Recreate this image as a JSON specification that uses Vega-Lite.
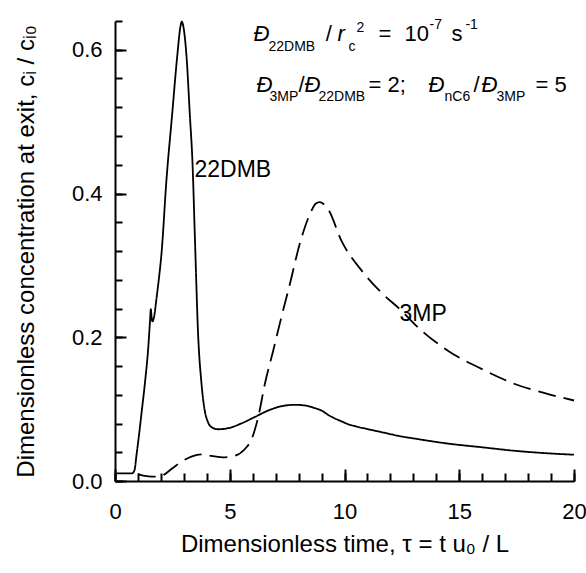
{
  "$schema": "https://vega.github.io/schema/vega-lite/v6.json",
  "width": 459,
  "height": 460,
  "autosize": {"type": "pad"},
  "padding": {"left": 14, "top": 17, "right": 0, "bottom": 0},
  "background": "white",
  "config": {
    "view": {"stroke": null},
    "font": "Liberation Sans",
    "axis": {"grid": false, "zindex": 1, "labelColor": "black", "titleColor": "black", "labelFont": "Liberation Sans", "titleFont": "Liberation Sans", "labelFontSize": 22, "titleFontSize": 24, "titleFontWeight": "normal", "domainColor": "#000000", "tickColor": "#000000", "domainWidth": 2, "tickWidth": 2}
  },
  "resolve": {"axis": {"x": "independent", "y": "independent"}},
  "datasets": {
    "curves": [
      {"series": "22DMB", "x": 0, "y": 0.0107},
      {"series": "22DMB", "x": 0.5, "y": 0.0107},
      {"series": "22DMB", "x": 0.75, "y": 0.0107},
      {"series": "22DMB", "x": 0.85, "y": 0.015},
      {"series": "22DMB", "x": 0.94, "y": 0.037},
      {"series": "22DMB", "x": 1.05, "y": 0.065},
      {"series": "22DMB", "x": 1.15, "y": 0.093},
      {"series": "22DMB", "x": 1.3, "y": 0.135},
      {"series": "22DMB", "x": 1.45, "y": 0.186},
      {"series": "22DMB", "x": 1.53, "y": 0.225},
      {"series": "22DMB", "x": 1.56, "y": 0.239},
      {"series": "22DMB", "x": 1.6, "y": 0.226},
      {"series": "22DMB", "x": 1.63, "y": 0.222},
      {"series": "22DMB", "x": 1.7, "y": 0.228},
      {"series": "22DMB", "x": 1.8, "y": 0.252},
      {"series": "22DMB", "x": 1.9, "y": 0.278},
      {"series": "22DMB", "x": 2.03, "y": 0.318},
      {"series": "22DMB", "x": 2.24, "y": 0.418},
      {"series": "22DMB", "x": 2.49, "y": 0.51},
      {"series": "22DMB", "x": 2.72, "y": 0.594},
      {"series": "22DMB", "x": 2.85, "y": 0.632},
      {"series": "22DMB", "x": 2.91, "y": 0.639},
      {"series": "22DMB", "x": 2.98, "y": 0.632},
      {"series": "22DMB", "x": 3.12, "y": 0.589},
      {"series": "22DMB", "x": 3.26, "y": 0.51},
      {"series": "22DMB", "x": 3.38, "y": 0.44},
      {"series": "22DMB", "x": 3.48, "y": 0.34},
      {"series": "22DMB", "x": 3.62, "y": 0.205},
      {"series": "22DMB", "x": 3.77, "y": 0.135},
      {"series": "22DMB", "x": 3.91, "y": 0.098},
      {"series": "22DMB", "x": 4.05, "y": 0.082},
      {"series": "22DMB", "x": 4.2, "y": 0.075},
      {"series": "22DMB", "x": 4.5, "y": 0.072},
      {"series": "22DMB", "x": 5.0, "y": 0.074},
      {"series": "22DMB", "x": 5.5, "y": 0.08},
      {"series": "22DMB", "x": 6.09, "y": 0.089},
      {"series": "22DMB", "x": 6.67, "y": 0.098},
      {"series": "22DMB", "x": 7.25, "y": 0.104},
      {"series": "22DMB", "x": 7.83, "y": 0.106},
      {"series": "22DMB", "x": 8.3, "y": 0.105},
      {"series": "22DMB", "x": 8.7, "y": 0.1015},
      {"series": "22DMB", "x": 9.0, "y": 0.098},
      {"series": "22DMB", "x": 9.29, "y": 0.092},
      {"series": "22DMB", "x": 9.58, "y": 0.087},
      {"series": "22DMB", "x": 9.87, "y": 0.083},
      {"series": "22DMB", "x": 10.16, "y": 0.079},
      {"series": "22DMB", "x": 10.5, "y": 0.076},
      {"series": "22DMB", "x": 11.03, "y": 0.072},
      {"series": "22DMB", "x": 11.61, "y": 0.068},
      {"series": "22DMB", "x": 12.48, "y": 0.062},
      {"series": "22DMB", "x": 13.06, "y": 0.059},
      {"series": "22DMB", "x": 14.52, "y": 0.052},
      {"series": "22DMB", "x": 15.97, "y": 0.047},
      {"series": "22DMB", "x": 17.42, "y": 0.042},
      {"series": "22DMB", "x": 18.87, "y": 0.0385},
      {"series": "22DMB", "x": 20, "y": 0.0366},
      {"series": "3MP", "x": 1.0, "y": 0.0097},
      {"series": "3MP", "x": 1.3, "y": 0.007},
      {"series": "3MP", "x": 1.6, "y": 0.006},
      {"series": "3MP", "x": 2.03, "y": 0.0074},
      {"series": "3MP", "x": 2.46, "y": 0.0167},
      {"series": "3MP", "x": 2.9, "y": 0.027},
      {"series": "3MP", "x": 3.33, "y": 0.034},
      {"series": "3MP", "x": 3.77, "y": 0.037},
      {"series": "3MP", "x": 4.2, "y": 0.035},
      {"series": "3MP", "x": 4.78, "y": 0.033},
      {"series": "3MP", "x": 5.22, "y": 0.035},
      {"series": "3MP", "x": 5.66, "y": 0.0445},
      {"series": "3MP", "x": 5.95, "y": 0.058},
      {"series": "3MP", "x": 6.24, "y": 0.089},
      {"series": "3MP", "x": 6.53, "y": 0.135},
      {"series": "3MP", "x": 6.89, "y": 0.181},
      {"series": "3MP", "x": 7.25, "y": 0.228},
      {"series": "3MP", "x": 7.62, "y": 0.274},
      {"series": "3MP", "x": 8.05, "y": 0.33},
      {"series": "3MP", "x": 8.56, "y": 0.376},
      {"series": "3MP", "x": 8.75, "y": 0.386},
      {"series": "3MP", "x": 8.92, "y": 0.388},
      {"series": "3MP", "x": 9.1, "y": 0.385},
      {"series": "3MP", "x": 9.29, "y": 0.378},
      {"series": "3MP", "x": 9.87, "y": 0.334},
      {"series": "3MP", "x": 10.74, "y": 0.293},
      {"series": "3MP", "x": 11.61, "y": 0.262},
      {"series": "3MP", "x": 12.48, "y": 0.237},
      {"series": "3MP", "x": 13.06, "y": 0.218},
      {"series": "3MP", "x": 14.52, "y": 0.181},
      {"series": "3MP", "x": 15.97, "y": 0.156},
      {"series": "3MP", "x": 17.42, "y": 0.135},
      {"series": "3MP", "x": 18.87, "y": 0.121},
      {"series": "3MP", "x": 20, "y": 0.112}
    ],
    "annItalic": [
      {"text": "Đ", "x": 6.035, "y": 0.6122},
      {"text": "r", "x": 9.695, "y": 0.6122},
      {"text": "Đ", "x": 6.166, "y": 0.5412},
      {"text": "Đ", "x": 8.257, "y": 0.5412},
      {"text": "Đ", "x": 13.66, "y": 0.5412},
      {"text": "Đ", "x": 15.969, "y": 0.5412}
    ],
    "annMain": [
      {"text": "/", "x": 9.18, "y": 0.6122},
      {"text": "=", "x": 11.481, "y": 0.6122},
      {"text": "10", "x": 12.614, "y": 0.6122},
      {"text": "s", "x": 14.662, "y": 0.6122},
      {"text": "/", "x": 7.996, "y": 0.5412},
      {"text": "= 2;", "x": 11.046, "y": 0.5412},
      {"text": "/", "x": 15.621, "y": 0.5412},
      {"text": "= 5", "x": 18.32, "y": 0.5412}
    ],
    "annSub": [
      {"text": "22DMB", "x": 6.689, "y": 0.5983},
      {"text": "c", "x": 10.174, "y": 0.5983},
      {"text": "3MP", "x": 6.732, "y": 0.5287},
      {"text": "22DMB", "x": 8.867, "y": 0.5287},
      {"text": "nC6", "x": 14.357, "y": 0.5287},
      {"text": "3MP", "x": 16.623, "y": 0.5287}
    ],
    "annSup": [
      {"text": "2", "x": 10.523, "y": 0.6247},
      {"text": "-7", "x": 13.704, "y": 0.6289},
      {"text": "-1", "x": 15.27, "y": 0.6289}
    ],
    "curveLabels": [
      {"text": "22DMB", "x": 3.464, "y": 0.423},
      {"text": "3MP", "x": 12.397, "y": 0.2226}
    ]
  },
  "layer": [
    {
      "data": {"name": "curves"},
      "mark": {"type": "line", "color": "black", "strokeWidth": 1.8, "interpolate": "monotone", "clip": false},
      "encoding": {
        "x": {
          "field": "x", "type": "quantitative",
          "scale": {"domain": [0, 20], "nice": false, "zero": false},
          "axis": {
            "orient": "bottom",
            "title": "Dimensionless time, τ = t u₀ / L",
            "values": [0, 5, 10, 15, 20],
            "domain": true,
            "ticks": true,
            "tickSize": -12,
            "labelPadding": 32,
            "titlePadding": 10,
            "labelFlush": false,
            "labelOverlap": false
          }
        },
        "y": {
          "field": "y", "type": "quantitative",
          "scale": {"domain": [0, 0.64], "nice": false, "zero": false},
          "axis": {
            "orient": "left",
            "title": "Dimensionless concentration at exit, cᵢ / cᵢ₀",
            "values": [0, 0.2, 0.4, 0.6],
            "format": ".1f",
            "domain": true,
            "ticks": true,
            "tickSize": -11,
            "labelPadding": 24,
            "titlePadding": 33,
            "labelFlush": false,
            "labelOverlap": false
          }
        },
        "detail": {"field": "series"},
        "strokeDash": {"field": "series", "type": "nominal", "scale": {"domain": ["22DMB", "3MP"], "range": [[1, 0], [18, 8]]}, "legend": null}
      }
    },
    {
      "data": {"name": "annItalic"},
      "mark": {"type": "text", "align": "left", "baseline": "alphabetic", "fontSize": 22, "fontStyle": "italic", "font": "Liberation Sans", "color": "black"},
      "encoding": {
        "x": {
          "field": "x", "type": "quantitative",
          "axis": {
            "orient": "bottom",
            "title": null,
            "values": [0,1,2,3,4,5,6,7,8,9,10,11,12,13,14,15,16,17,18,19,20],
            "labels": false,
            "domain": false,
            "ticks": true,
            "tickSize": -8
          }
        },
        "y": {
          "field": "y", "type": "quantitative",
          "axis": {
            "orient": "left",
            "title": null,
            "values": [0,0.04,0.08,0.12,0.16,0.2,0.24,0.28,0.32,0.36,0.4,0.44,0.48,0.52,0.56,0.6,0.64],
            "labels": false,
            "domain": false,
            "ticks": true,
            "tickSize": -7
          }
        },
        "text": {"field": "text"}
      }
    },
    {
      "data": {"name": "annMain"},
      "mark": {"type": "text", "align": "left", "baseline": "alphabetic", "fontSize": 22, "font": "Liberation Sans", "color": "black"},
      "encoding": {
        "x": {"field": "x", "type": "quantitative", "axis": null},
        "y": {"field": "y", "type": "quantitative", "axis": null},
        "text": {"field": "text"}
      }
    },
    {
      "data": {"name": "annSub"},
      "mark": {"type": "text", "align": "left", "baseline": "alphabetic", "fontSize": 14, "font": "Liberation Sans", "color": "black"},
      "encoding": {
        "x": {"field": "x", "type": "quantitative", "axis": null},
        "y": {"field": "y", "type": "quantitative", "axis": null},
        "text": {"field": "text"}
      }
    },
    {
      "data": {"name": "annSup"},
      "mark": {"type": "text", "align": "left", "baseline": "alphabetic", "fontSize": 14, "font": "Liberation Sans", "color": "black"},
      "encoding": {
        "x": {"field": "x", "type": "quantitative", "axis": null},
        "y": {"field": "y", "type": "quantitative", "axis": null},
        "text": {"field": "text"}
      }
    },
    {
      "data": {"name": "curveLabels"},
      "mark": {"type": "text", "align": "left", "baseline": "alphabetic", "fontSize": 23, "font": "Liberation Sans", "color": "black"},
      "encoding": {
        "x": {"field": "x", "type": "quantitative", "axis": null},
        "y": {"field": "y", "type": "quantitative", "axis": null},
        "text": {"field": "text"}
      }
    }
  ]
}
